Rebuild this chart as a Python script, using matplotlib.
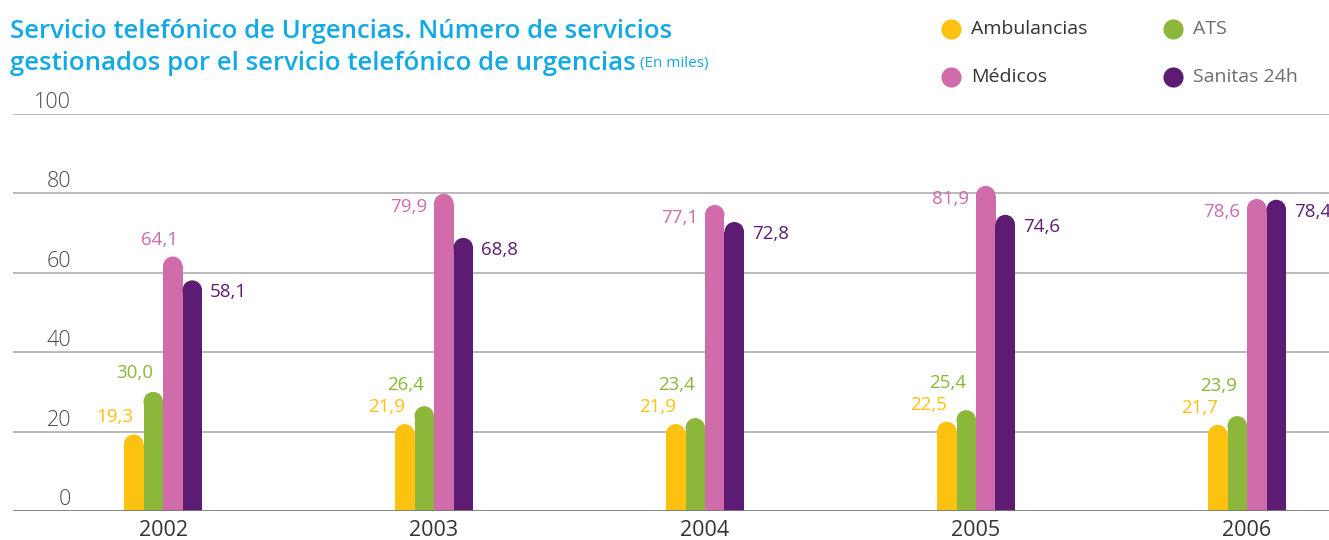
import matplotlib
matplotlib.use("Agg")
import matplotlib.pyplot as plt
from matplotlib.patches import Ellipse
from matplotlib.lines import Line2D

years = ["2002", "2003", "2004", "2005", "2006"]
series = ["Ambulancias", "ATS", "Médicos", "Sanitas 24h"]
ambulancias = [19.3, 21.9, 21.9, 22.5, 21.7]
ats = [30.0, 26.4, 23.4, 25.4, 23.9]
medicos = [64.1, 79.9, 77.1, 81.9, 78.6]
sanitas = [58.1, 68.8, 72.8, 74.6, 78.4]
y_ticks = [0, 20, 40, 60, 80, 100]

colors = ["#fdc20f", "#8cb73a", "#d06caa", "#5d1c74"]
values = [ambulancias, ats, medicos, sanitas]

plt.rcParams["font.family"] = ["Open Sans", "DejaVu Sans"]

W, H = 1329, 540
fig = plt.figure(figsize=(W / 100, H / 100), dpi=100)
ax = fig.add_axes([13 / W, 1 - 511 / H, 1 - 13 / W, (511 - 114) / H])

x0_px, step_px = 163, 271
ax.set_xlim((13 - x0_px) / step_px, (W - x0_px) / step_px)
ax.set_ylim(0, 100)
for s in ax.spines.values():
    s.set_visible(False)
ax.set_xticks([])
ax.set_yticks([])

for v in y_ticks[1:]:
    ax.axhline(v, color="#b4b4b4", lw=1.3, zorder=0)
ax.axhline(0, color="#7a7a7a", lw=2, zorder=5)

for v in y_ticks:
    ax.annotate(str(v), xy=(58 / 1316, v), xycoords=("axes fraction", "data"),
                xytext=(0, 6), textcoords="offset pixels", ha="right", va="baseline",
                fontsize=15.5, color="#4a4a4a", weight="light")

bw = 19.5 / step_px
# radius of the rounded top in data units
px_x = ax.transData.transform((bw, 0))[0] - ax.transData.transform((0, 0))[0]
px_y = ax.transData.transform((0, 1))[1] - ax.transData.transform((0, 0))[1]
r = (px_x / 2) / px_y

for j, (vals, col) in enumerate(zip(values, colors)):
    for i, v in enumerate(vals):
        xc = i + (j - 1.5) * bw
        ax.bar(xc, v - r, width=bw, color=col, linewidth=0, zorder=3)
        ax.add_patch(Ellipse((xc, v - r), bw, 2 * r, color=col, lw=0, zorder=3))
        txt = f"{v:.1f}".replace(".", ",")
        if j == 0:
            xy, off, ha = (xc, v), (0, 17), "right"
        elif j == 1:
            # keep the ATS label clear of the Ambulancias label below it
            amb_lab = ambulancias[i] * px_y + 17
            dy = max(v * px_y + 19, amb_lab + 22) - v * px_y
            xy, off, ha = (xc, v), (0, dy), "right"
        elif j == 2 and i == 0:
            xy, off, ha = (xc, v), (5, 17), "right"
        elif j == 2:
            xy, off, ha = (xc - bw / 2, v), (-7, -13), "right"
        else:
            xy, off, ha = (xc + bw / 2, v), (8, -12), "left"
        ax.annotate(txt, xy=xy, xytext=off, textcoords="offset pixels",
                    ha=ha, va="center", fontsize=13.5, color=col, zorder=6)

for i, y in enumerate(years):
    ax.annotate(y, xy=(i, 0), xytext=(0, -19), textcoords="offset pixels",
                ha="center", va="center", fontsize=15.5, color="#333333")

# title
title_col = "#12a9e4"
fig.text(10 / W, 1 - 38 / H, "Servicio telefónico de Urgencias. Número de servicios",
         fontsize=18.5, color=title_col, weight="semibold", va="baseline")
t2 = fig.text(10 / W, 1 - 70 / H, "gestionados por el servicio telefónico de urgencias",
              fontsize=18.5, color=title_col, weight="semibold", va="baseline")
fig.canvas.draw()
ax.annotate(" (En miles)", xy=(1, 0), xycoords=t2, xytext=(0, 5),
            textcoords="offset pixels", va="bottom", ha="left",
            fontsize=11, color=title_col)

# legend
leg_pos = [(951, 29), (1173, 29), (951, 77), (1173, 77)]
leg_text_col = ["#333333", "#6e6e6e", "#333333", "#6e6e6e"]
for k, (px, py) in enumerate(leg_pos):
    fig.add_artist(Line2D([px / W], [1 - py / H], marker="o", markersize=14.5,
                          color=colors[k], markeredgewidth=0, transform=fig.transFigure))
    fig.text((px + 20) / W, 1 - py / H, series[k], fontsize=14,
             color=leg_text_col[k], va="center", ha="left")

fig.savefig("out.png", dpi=100)
